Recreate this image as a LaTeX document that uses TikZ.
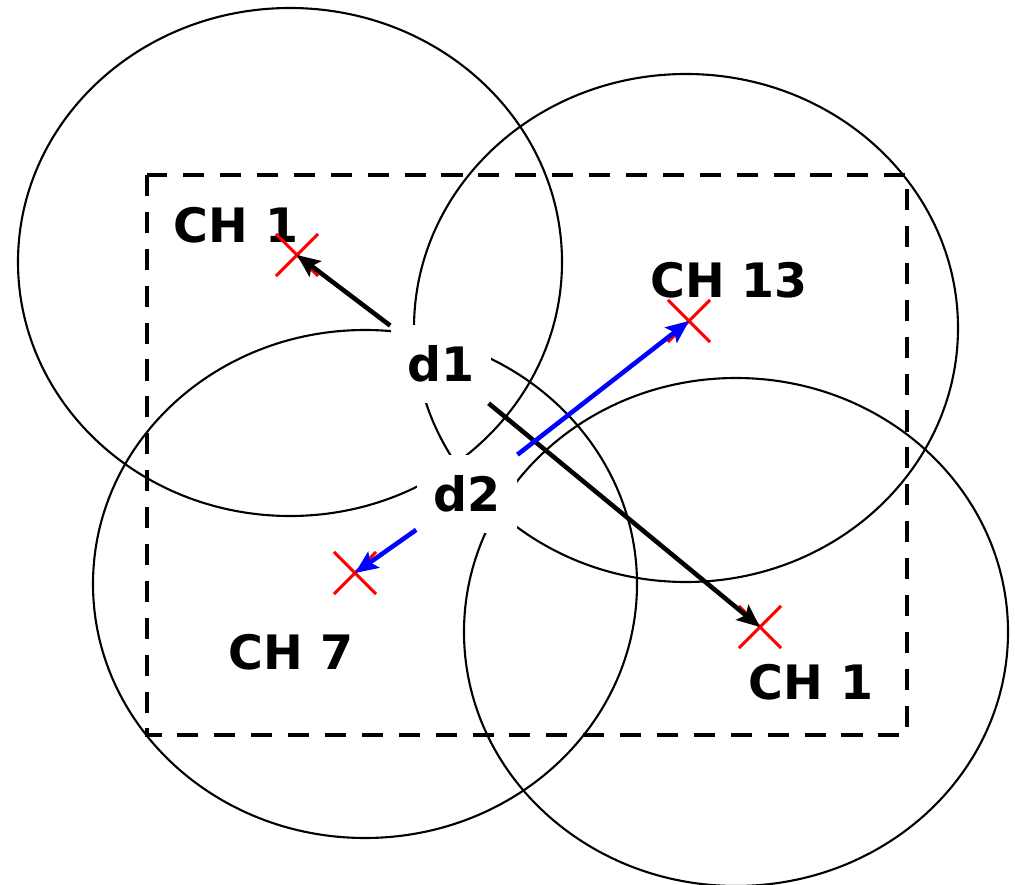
\documentclass[tikz,border=0pt]{standalone}
\usepackage{fontspec}
\setmainfont{DejaVu Sans}
\usetikzlibrary{arrows.meta,shapes.misc}

\begin{document}
\begin{tikzpicture}[x=0.02cm,y=-0.02cm,
  cella/.style={draw=black, line width=1.2pt},
  canale/.style={font=\bfseries\fontsize{27}{32}\selectfont, inner sep=0pt},
  punto/.style={font=\bfseries\fontsize{27}{32}\selectfont, fill=white, inner sep=0pt,
    minimum width=2.02cm, minimum height=1.56cm},
  croce/.style={cross out, draw=colCroce, line width=1.8pt, minimum size=0.78cm, inner sep=0pt},
  freccia/.style={line width=2.6pt, -{Stealth[length=13pt,width=11pt,inset=2.5pt]}}]

% Colori
\definecolor{colCroce}{HTML}{FF0000}
\definecolor{colBlu}{HTML}{0000FF}

% Semiassi delle celle
\def\rx{272}
\def\ry{254}

\useasboundingbox (0,0) rectangle (1015,885);

% Celle
\draw[cella] (290,262) ellipse [x radius=\rx, y radius=\ry];
\draw[cella] (686,328) ellipse [x radius=\rx, y radius=\ry];
\draw[cella] (365,584) ellipse [x radius=\rx, y radius=\ry];
\draw[cella] (736,632) ellipse [x radius=\rx, y radius=\ry];

% Area tratteggiata
\draw[line width=2.3pt, dash pattern=on 12pt off 9pt] (147,175) rectangle (907,735);

% Etichette dei canali
\node[canale] (lab1a) at (236,225) {CH 1};
\node[canale] (lab13) at (729,280) {CH 13};
\node[canale] (lab7) at (291,652) {CH 7};
\node[canale] (lab1b) at (811,682) {CH 1};

% Croci
\node[croce] (ch1a) at (297,255) {};
\node[croce] (ch13) at (689,321) {};
\node[croce] (ch7) at (355,573) {};
\node[croce] (ch1b) at (760,627) {};

% Punti d1 e d2
\node[punto] (d1) at (441,364) {d1};
\node[punto] (d2) at (467,494) {d2};

% Frecce
\draw[freccia] (d1) -- (ch1a.center);
\draw[freccia] (d1) -- (ch1b.center);
\draw[freccia, colBlu] (d2) -- (ch13.center);
\draw[freccia, colBlu] (d2) -- (ch7.center);

\end{tikzpicture}
\end{document}
